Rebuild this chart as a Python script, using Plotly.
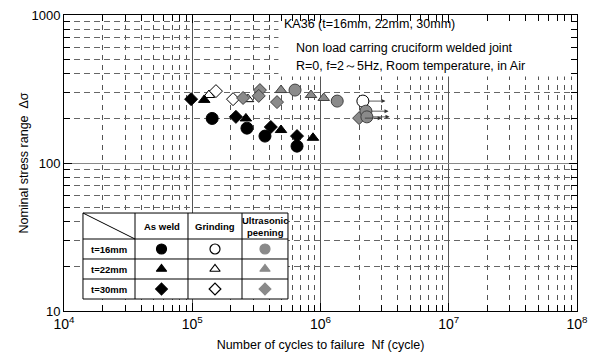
import math
import plotly.graph_objects as go

FONT = "Arial, Liberation Sans, sans-serif"

# ---------------- data (N cycles, stress range MPa) ----------------
# As weld (black)
aw16_N = [1.43e5, 2.67e5, 3.69e5, 6.56e5]
aw16_S = [200, 172, 152, 130]
aw22_N = [1.24e5, 2.62e5, 4.92e5, 8.74e5]
aw22_S = [267, 200, 167, 148]
aw30_N = [9.8e4, 2.19e5, 4.10e5, 6.56e5]
aw30_S = [270, 205, 175, 152]

# Grinding (white)
gr16_N = [2.14e6]
gr16_S = [262]
gr22_N = [1.35e5, 2.72e5]
gr22_S = [288, 270]
gr30_N = [1.53e5, 2.08e5]
gr30_S = [306, 270]

# Ultrasonic peening (gray)
up16_N = [6.33e5, 1.35e6, 2.26e6, 2.30e6]
up16_S = [311, 262, 224, 205]
up22_N = [4.92e5, 8.43e5, 1.06e6]
up22_S = [311, 288, 275]
up30_N = [2.49e5, 3.37e5, 3.30e5, 4.58e5, 2.0e6]
up30_S = [275, 311, 284, 258, 201]

# Run-outs (no failure) -> arrows
runout_N = [2.14e6, 2.26e6, 2.30e6, 2.0e6]
runout_S = [262, 224, 205, 201]

x_tickvals = [1e4, 1e5, 1e6, 1e7, 1e8]
x_ticktext = ["10<sup>4</sup>", "10<sup>5</sup>", "10<sup>6</sup>", "10<sup>7</sup>", "10<sup>8</sup>"]
y_tickvals = [10, 100, 1000]
y_ticktext = ["10", "100", "1000"]

info_lines = ["KA36 (t=16mm, 22mm, 30mm)",
              "Non load carring cruciform welded joint",
              "R=0, f=2～5Hz, Room temperature, in Air"]
col_labels = ["As weld", "Grinding", "Ultrasonic<br>peening"]
row_labels = ["t=16mm", "t=22mm", "t=30mm"]

BLACK = "#000000"
WHITE = "#ffffff"
GRAY = "#8a8a8a"

fig = go.Figure()

def add(N, S, symbol, fill, line, size):
    fig.add_trace(go.Scatter(
        x=N, y=S, mode="markers", showlegend=False, hoverinfo="skip",
        marker=dict(symbol=symbol, size=size, color=fill,
                    line=dict(color=line, width=1))))

# grinding
add(gr16_N, gr16_S, "circle", WHITE, BLACK, 12)
add(gr22_N, gr22_S, "triangle-up", WHITE, BLACK, 10)
add(gr30_N, gr30_S, "diamond", WHITE, BLACK, 10)
# ultrasonic peening
add(up30_N, up30_S, "diamond", GRAY, "#404040", 10)
add(up22_N, up22_S, "triangle-up", GRAY, "#404040", 10)
add(up16_N, up16_S, "circle", GRAY, "#404040", 12)
# as weld
add(aw16_N, aw16_S, "circle", BLACK, BLACK, 12)
add(aw22_N, aw22_S, "triangle-up", BLACK, BLACK, 10)
add(aw30_N, aw30_S, "diamond", BLACK, BLACK, 10)

# run-out arrows
for n, s in zip(runout_N, runout_S):
    fig.add_annotation(x=math.log10(n * 1.5), y=math.log10(s),
                       ax=math.log10(n * 1.08), ay=math.log10(s),
                       xref="x", yref="y", axref="x", ayref="y",
                       text="", showarrow=True, arrowhead=2, arrowsize=1,
                       arrowwidth=0.8, arrowcolor="#333333")

# ---------------- overlay (domain-fraction) layer: table + text box ----------------
tx = [0.037, 0.1384, 0.2417, 0.347, 0.4366]
ty = [0.331, 0.2432, 0.1757, 0.1081, 0.0405]

def overlay_poly(xs, ys, fill=None, line_color=None, width=1):
    fig.add_trace(go.Scatter(
        x=xs, y=ys, xaxis="x2", yaxis="y2", mode="lines", showlegend=False,
        hoverinfo="skip",
        fill="toself" if fill else None, fillcolor=fill,
        line=dict(color=line_color or "rgba(0,0,0,0)", width=width)))

# info text box background (covers grid)
bx = [0.418, 0.999, 0.999, 0.418, 0.418]
by = [0.792, 0.792, 0.999, 0.999, 0.792]
overlay_poly(bx, by, fill="white", width=0)

# table background and outline
overlay_poly([tx[0], tx[-1], tx[-1], tx[0], tx[0]],
             [ty[-1], ty[-1], ty[0], ty[0], ty[-1]], fill="white", line_color="black")
for xv in tx[1:-1]:
    overlay_poly([xv, xv], [ty[-1], ty[0]], line_color="black")
for yv in ty[1:-1]:
    overlay_poly([tx[0], tx[-1]], [yv, yv], line_color="black")
overlay_poly([tx[0], tx[1]], [ty[0], ty[1]], line_color="black")

for i, lab in enumerate(col_labels):
    fig.add_annotation(x=(tx[i + 1] + tx[i + 2]) / 2, y=(ty[0] + ty[1]) / 2,
                       xref="x2", yref="y2", text="<b>" + lab + "</b>",
                       showarrow=False, font=dict(family=FONT, size=9.5, color="black"))
for j, lab in enumerate(row_labels):
    fig.add_annotation(x=(tx[0] + tx[1]) / 2, y=(ty[j + 1] + ty[j + 2]) / 2,
                       xref="x2", yref="y2", text="<b>" + lab + "</b>",
                       showarrow=False, font=dict(family=FONT, size=9.5, color="black"))

leg_sym = ["circle", "triangle-up", "diamond"]
leg_size = [10, 9, 9]
leg_fill = [BLACK, WHITE, GRAY]
leg_line = [BLACK, BLACK, GRAY]
for i in range(3):
    for j in range(3):
        fig.add_trace(go.Scatter(
            x=[(tx[i + 1] + tx[i + 2]) / 2], y=[(ty[j + 1] + ty[j + 2]) / 2],
            xaxis="x2", yaxis="y2", mode="markers", showlegend=False, hoverinfo="skip",
            marker=dict(symbol=leg_sym[j], size=leg_size[j], color=leg_fill[i],
                        line=dict(color=leg_line[i], width=1.2))))

info_y = [0.968, 0.888, 0.828]
info_x = [0.425, 0.448, 0.448]
for t, xv, yv in zip(info_lines, info_x, info_y):
    fig.add_annotation(x=xv, y=yv, xref="x2", yref="y2", text=t,
                       showarrow=False, xanchor="left", yanchor="middle",
                       font=dict(family=FONT, size=12.5, color="black"))

minor_x = [m * 10 ** e for e in range(4, 8) for m in range(2, 10)]
minor_y = [m * 10 ** e for e in range(1, 3) for m in range(2, 10)]

fig.update_layout(
    width=590, height=361,
    margin=dict(l=64, r=13, t=15, b=50, autoexpand=False),
    paper_bgcolor="white", plot_bgcolor="white",
    font=dict(family=FONT, color="black"),
    xaxis=dict(type="log", range=[4, 8], automargin=False,
               tickvals=x_tickvals, ticktext=x_ticktext,
               tickfont=dict(size=14), ticks="inside", ticklen=8, tickcolor="black",
               showline=True, linecolor="black", linewidth=1, mirror="allticks",
               showgrid=True, gridcolor="#555555", gridwidth=1,
               minor=dict(tickvals=minor_x, ticks="inside", ticklen=6, tickcolor="black",
                          showgrid=True, gridcolor="#555555", griddash="5px,5px", gridwidth=1),
               title=dict(text="Number of cycles to failure  Nf (cycle)",
                          font=dict(size=12.5), standoff=9),
               zeroline=False),
    yaxis=dict(type="log", range=[1, 3], automargin=False,
               tickvals=y_tickvals, ticktext=y_ticktext,
               tickfont=dict(size=13), ticks="inside", ticklen=8, tickcolor="black",
               showline=True, linecolor="black", linewidth=1, mirror="allticks",
               showgrid=True, gridcolor="#888888", gridwidth=1,
               minor=dict(tickvals=minor_y, ticks="inside", ticklen=6, tickcolor="black",
                          showgrid=True, gridcolor="#666666", griddash="6px,4px", gridwidth=1),
               title=dict(text="Nominal stress range  Δσ", font=dict(size=12.5), standoff=0),
               zeroline=False),
    xaxis2=dict(overlaying="x", range=[0, 1], visible=False, showgrid=False, fixedrange=True,
                automargin=False),
    yaxis2=dict(overlaying="y", range=[0, 1], visible=False, showgrid=False, fixedrange=True,
                automargin=False),
)

fig.write_html("out.html", config={"displayModeBar": False},
               post_script="document.body.style.margin='0';document.body.style.padding='0';")
